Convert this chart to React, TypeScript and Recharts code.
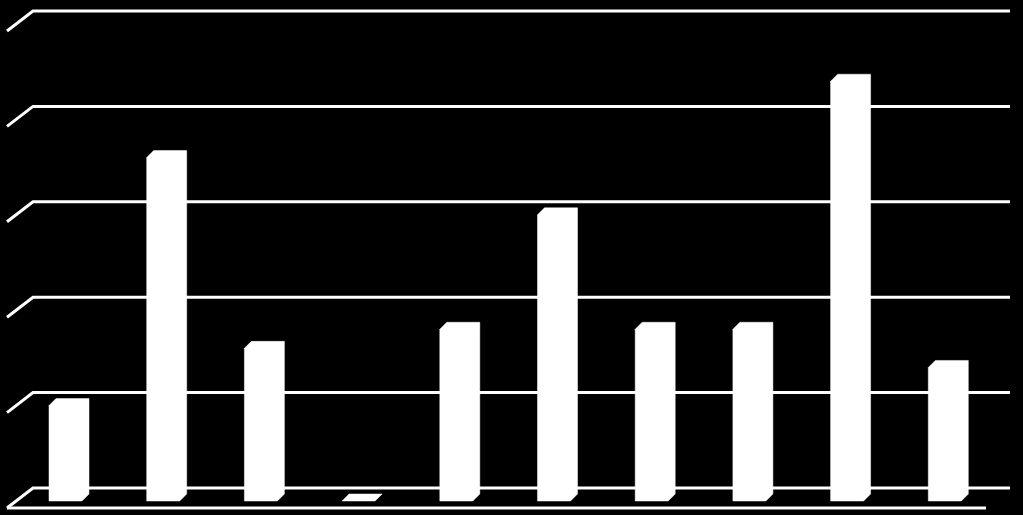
import React from 'react';
import { BarChart, Bar, XAxis, YAxis, CartesianGrid } from 'recharts';

// categories have no visible labels in the picture
const categories = ['A', 'B', 'C', 'D', 'E', 'F', 'G', 'H', 'I', 'J'];
const values = [1.0, 3.6, 1.6, 0, 1.8, 3.0, 1.8, 1.8, 4.4, 1.4];
const yTicks = [0, 1, 2, 3, 4, 5];

const data = categories.map((name, i) => ({ name, value: values[i] }));

const WALL_DX = 26; // depth of the back wall
const WALL_DY = 20;
const BAR_DEPTH = 7;

// grid line on the back wall + slanted piece on the side wall
const GridLine = (props: any) => {
  const { x1, x2, y1, index } = props;
  const y = y1;
  return (
    <g key={`grid-${index}`}>
      <path
        d={`M${x1 - WALL_DX},${y + WALL_DY} L${x1},${y} L${x2},${y}`}
        fill="none"
        stroke="#fff"
        strokeWidth={3}
      />
      {index === 0 && (
        // front edge of the floor
        <line x1={x1 - WALL_DX} y1={y + WALL_DY} x2={x2 - WALL_DX + 2} y2={y + WALL_DY} stroke="#fff" strokeWidth={3} />
      )}
    </g>
  );
};

// 3d column: back face + front face shifted down-left
const Column = (props: any) => {
  const { x, y, width, height } = props;
  if (x == null || y == null) return null;
  const d = BAR_DEPTH;
  const bx = x - 9;
  const by = y + 6;
  const h = Math.max(height, 0);
  const pts = [
    [bx - d, by + d],
    [bx, by],
    [bx + width, by],
    [bx + width, by + h],
    [bx + width - d, by + h + d],
    [bx - d, by + h + d],
  ]
    .map(p => p.join(','))
    .join(' ');
  return <polygon points={pts} fill="#fff" stroke="#fff" strokeWidth={0.5} />;
};

export default function App() {
  return (
    <div style={{ position: 'absolute', left: 0, top: 0, width: 1023, height: 515, background: '#000' }}>
      <BarChart
        width={1023}
        height={515}
        data={data}
        margin={{ top: 11, right: 13, bottom: 27, left: 33 }}
        barCategoryGap="0%"
      >
        <CartesianGrid vertical={false} horizontal={GridLine} />
        <XAxis dataKey="name" hide />
        <YAxis domain={[0, 5]} ticks={yTicks} hide />
        <Bar dataKey="value" barSize={33} shape={Column} isAnimationActive={false} />
      </BarChart>
    </div>
  );
}
